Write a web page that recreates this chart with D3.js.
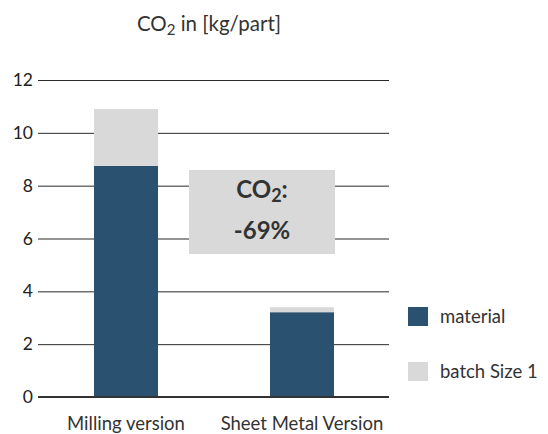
<!DOCTYPE html>
<html>
<head>
<meta charset="utf-8">
<script src="https://cdn.jsdelivr.net/npm/d3@7"></script>
<style>
  html, body { margin: 0; padding: 0; background: #fff; }
  svg { display: block; font-family: Lato, "Open Sans", sans-serif; }
</style>
</head>
<body>
<svg id="chart" width="548" height="434"></svg>
<script>
// CO2 per part, stacked by cause
const categories = ["Milling version", "Sheet Metal Version"];
const material = [8.75, 3.21];
const batchSize1 = [2.15, 0.19];
const seriesNames = ["material", "batch Size 1"];
const yTicks = [0, 2, 4, 6, 8, 10, 12];
const reductionLabel = ["CO₂:", "-69%"];

const colors = { "material": "#2b5170", "batch Size 1": "#d9d9d9" };

const svg = d3.select("#chart");
const plot = { left: 38, right: 389, top: 80, bottom: 397 };

const x = d3.scaleBand()
  .domain(categories)
  .range([50, 378])
  .paddingInner(112 / 176)
  .paddingOuter(0.25);

const y = d3.scaleLinear().domain([0, 12]).range([plot.bottom, plot.top]);

// title
const title = svg.append("text")
  .attr("x", 209).attr("y", 31)
  .attr("text-anchor", "middle")
  .attr("font-size", 20.5).attr("fill", "#333");
title.append("tspan").text("CO");
title.append("tspan").text("2").attr("font-size", 15).attr("dy", 4);
title.append("tspan").text(" in [kg/part]").attr("dy", -4);

// gridlines
svg.append("g").selectAll("line")
  .data(yTicks.filter(d => d !== 0))
  .join("line")
  .attr("x1", plot.left).attr("x2", plot.right)
  .attr("y1", d => y(d) + 0.5).attr("y2", d => y(d) + 0.5)
  .attr("stroke", "#2a2a2a").attr("stroke-width", 1);

// y axis labels
svg.append("g").selectAll("text")
  .data(yTicks)
  .join("text")
  .attr("x", 33).attr("y", d => y(d))
  .attr("dy", "0.35em")
  .attr("text-anchor", "end")
  .attr("font-size", 17.5).attr("fill", "#222")
  .text(d => d);

// stacked bars
const rows = categories.map((c, i) => ({ category: c, "material": material[i], "batch Size 1": batchSize1[i] }));
const stacked = d3.stack().keys(seriesNames)(rows);

svg.append("g").selectAll("g")
  .data(stacked)
  .join("g")
  .attr("fill", d => colors[d.key])
  .selectAll("rect")
  .data(d => d)
  .join("rect")
  .attr("x", d => x(d.data.category))
  .attr("width", x.bandwidth())
  .attr("y", d => y(d[1]))
  .attr("height", d => y(d[0]) - y(d[1]));

// baseline
svg.append("line")
  .attr("x1", plot.left).attr("x2", plot.right)
  .attr("y1", y(0)).attr("y2", y(0))
  .attr("stroke", "#333").attr("stroke-width", 2);

// x labels
svg.append("g").selectAll("text")
  .data(categories)
  .join("text")
  .attr("x", d => x(d) + x.bandwidth() / 2)
  .attr("y", 430)
  .attr("text-anchor", "middle")
  .attr("font-size", 18.5).attr("fill", "#333")
  .text(d => d);

// reduction callout
svg.append("rect")
  .attr("x", 189).attr("y", 170)
  .attr("width", 146).attr("height", 84)
  .attr("fill", "#d9d9d9");
const c1 = svg.append("text")
  .attr("x", 262).attr("y", 198)
  .attr("text-anchor", "middle")
  .attr("font-size", 24).attr("font-weight", "bold").attr("fill", "#333");
c1.append("tspan").text("CO");
c1.append("tspan").text("2").attr("font-size", 18).attr("dy", 4);
c1.append("tspan").text(":").attr("dy", -4);
svg.append("text")
  .attr("x", 262).attr("y", 239)
  .attr("text-anchor", "middle")
  .attr("font-size", 24).attr("font-weight", "bold").attr("fill", "#333")
  .text(reductionLabel[1]);

// legend
const legend = svg.append("g").selectAll("g")
  .data(seriesNames)
  .join("g")
  .attr("transform", (d, i) => `translate(408, ${307 + i * 55})`);
legend.append("rect")
  .attr("width", 20).attr("height", 19)
  .attr("fill", d => colors[d]);
legend.append("text")
  .attr("x", 32).attr("y", 10).attr("dy", "0.35em")
  .attr("font-size", 18.5).attr("fill", "#333")
  .text(d => d);
</script>
</body>
</html>
